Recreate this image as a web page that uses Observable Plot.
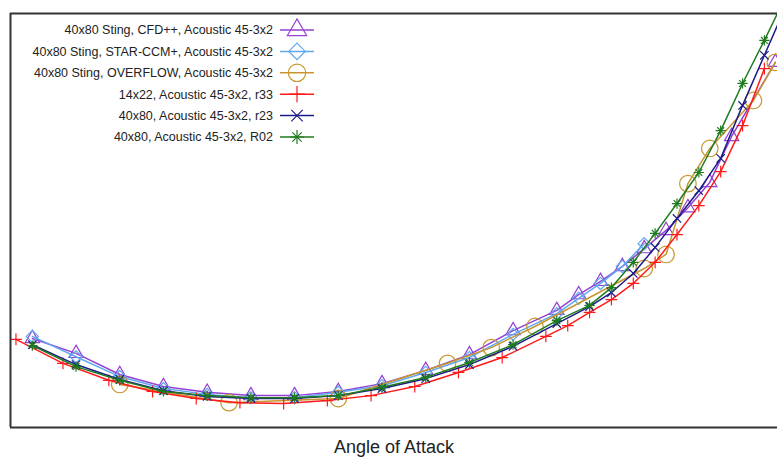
<!DOCTYPE html>
<html><head><meta charset="utf-8">
<script src="https://cdn.jsdelivr.net/npm/d3@7"></script>
<script src="https://cdn.jsdelivr.net/npm/@observablehq/plot@0.6"></script>
<style>
html,body{margin:0;padding:0;background:#fff;}
#chart{width:777px;height:457px;overflow:hidden;position:relative;}
#chart svg{font-family:"Liberation Sans",Arial,sans-serif;}
</style>
</head><body><div id="chart"></div>
<script>
// ---- data (units arbitrary, y normalised) ----
const seriesNames = [
  "40x80 Sting, CFD++, Acoustic 45-3x2",
  "40x80 Sting, STAR-CCM+, Acoustic 45-3x2",
  "40x80 Sting, OVERFLOW, Acoustic 45-3x2",
  "14x22, Acoustic 45-3x2, r33",
  "40x80, Acoustic 45-3x2, r23",
  "40x80, Acoustic 45-3x2, R02"
];
const xLabel = "Angle of Attack";

const cfdAoA = [-10,-8,-6,-4,-2,0,2,4,6,8,10,12,14,15,16,17,18,19,20,21,22,24];
const cfdVal = [0.215,0.179,0.128,0.099,0.085,0.077,0.077,0.087,0.106,0.138,0.176,0.234,0.283,0.321,0.353,0.389,0.432,0.476,0.531,0.592,0.703,0.882];

const starAoA = [-10,-8,-6,-4,-2,0,2,4,6,8,10,12,14,15,16,17,18];
const starVal = [0.220,0.171,0.123,0.094,0.080,0.072,0.072,0.085,0.101,0.133,0.169,0.225,0.275,0.312,0.348,0.389,0.444];

const ovfAoA = [-6,-1,4,9,11,13,18,19,20,21,23,24];
const ovfVal = [0.104,0.060,0.070,0.155,0.193,0.244,0.384,0.418,0.589,0.674,0.790,0.882];

const r33AoA = [-10.75,-8.6,-6.5,-4.5,-2.5,-0.5,1.5,3.5,5.5,7.5,9.5,11.5,13.5,14.5,15.5,16.5,17.5,18.5,19.5,20.5,21.5,22.5,23.5];
const r33Val = [0.213,0.155,0.114,0.087,0.070,0.060,0.058,0.065,0.077,0.099,0.133,0.169,0.220,0.246,0.278,0.309,0.348,0.399,0.466,0.536,0.618,0.729,0.867];

const r23AoA = [-10,-8,-6,-4,-2,0,2,4,6,8,10,12,14,15.5,16.5,17.5,18.5,19.5,20.5,21.5,22.5,23.5,24.5];
const r23Val = [0.200,0.152,0.116,0.089,0.075,0.070,0.070,0.077,0.094,0.118,0.152,0.196,0.251,0.292,0.326,0.372,0.435,0.505,0.572,0.650,0.778,0.899,1.02];

const r02AoA = [-10,-8,-6,-4,-2,0,2,4,6,8,10,12,14,15.5,16.5,17.5,18.5,19.5,20.5,21.5,22.5,23.5,24.5];
const r02Val = [0.198,0.147,0.114,0.087,0.077,0.072,0.072,0.077,0.097,0.121,0.157,0.200,0.258,0.295,0.338,0.399,0.469,0.541,0.616,0.717,0.831,0.935,1.044];

const xDomain = [-11, 24.1];
const yDomain = [0, 1];

// ---- styles ----
const styles = [
  {color:"#9440d4", symbols:["triangle"], r:[5.3]},
  {color:"#5fa8f0", symbols:["diamond2"], r:[5.5]},
  {color:"#c8962e", symbols:["circle"], r:[8.3]},
  {color:"#ff1a1a", symbols:["plus"], r:[3.9]},
  {color:"#1c1c88", symbols:["times"], r:[3.9]},
  {color:"#1e7b1e", symbols:["plus","times"], r:[3.4,3.2]}
];
const aoaLists = [cfdAoA, starAoA, ovfAoA, r33AoA, r23AoA, r02AoA];
const valLists = [cfdVal, starVal, ovfVal, r33Val, r23Val, r02Val];

const tables = seriesNames.map((name, k) =>
  aoaLists[k].map((a, i) => ({series: name, aoa: a, value: valLists[k][i]})));

const marks = [];
tables.forEach((rows, k) => {
  const st = styles[k];
  marks.push(Plot.line(rows, {x:"aoa", y:"value", stroke: st.color, strokeWidth: 1.5, clip: true}));
  st.symbols.forEach((sym, j) => {
    marks.push(Plot.dot(rows, {x:"aoa", y:"value", symbol: sym, r: st.r[j], stroke: st.color, strokeWidth: 1.2, fill: "none", clip: true}));
  });
});
// frame: top, bottom, left (right edge lies outside the picture)
marks.push(Plot.ruleY(yDomain, {stroke:"#333", strokeWidth: 2}));
marks.push(Plot.ruleX([xDomain[0]], {stroke:"#333", strokeWidth: 2}));
marks.push(Plot.text([xLabel], {frameAnchor:"bottom", dy: 20, text: d => d, fontSize: 18, fill:"#222", lineAnchor:"middle"}));

const chart = Plot.plot({
  width: 777, height: 457,
  marginTop: 13, marginBottom: 30, marginLeft: 10, marginRight: 0,
  x: {domain: xDomain, axis: null},
  y: {domain: yDomain, axis: null},
  marks
});
document.getElementById("chart").appendChild(chart);

// ---- legend (inside the frame, top-left) ----
const svg = d3.select(chart);
const lg = svg.append("g").attr("class","legend");
const symMap = {triangle:d3.symbolTriangle, diamond2:d3.symbolDiamond2, circle:d3.symbolCircle, plus:d3.symbolPlus, times:d3.symbolTimes};
const rowY0 = 30, rowStep = 21.4;
seriesNames.forEach((name, k) => {
  const st = styles[k];
  const y = rowY0 + k * rowStep;
  lg.append("text").attr("x", 273).attr("y", y).attr("dy","0.35em")
    .attr("text-anchor","end").attr("font-size", 12.5).attr("fill","#222").text(name);
  lg.append("line").attr("x1", 280).attr("x2", 314).attr("y1", y).attr("y2", y)
    .attr("stroke", st.color).attr("stroke-width", 1.5);
  st.symbols.forEach((sym, j) => {
    const rr = st.r[j] * (sym === "circle" ? 1.05 : 1.35);
    lg.append("path").attr("transform", `translate(297,${y})`)
      .attr("d", d3.symbol(symMap[sym], Math.PI * rr * rr)())
      .attr("fill","none").attr("stroke", st.color).attr("stroke-width", 1.2);
  });
});
</script>
</body></html>
